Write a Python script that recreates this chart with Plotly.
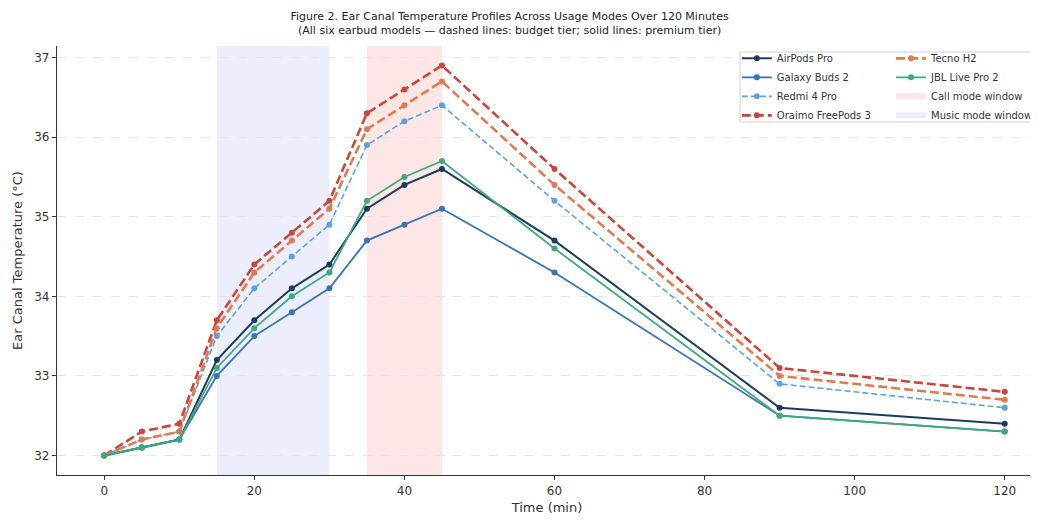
import plotly.graph_objects as go

time_min = [0, 5, 10, 15, 20, 25, 30, 35, 40, 45, 60, 90, 120]

airpods_pro = [32.0, 32.1, 32.2, 33.2, 33.7, 34.1, 34.4, 35.1, 35.4, 35.6, 34.7, 32.6, 32.4]
galaxy_buds_2 = [32.0, 32.1, 32.2, 33.0, 33.5, 33.8, 34.1, 34.7, 34.9, 35.1, 34.3, 32.5, 32.3]
redmi_4_pro = [32.0, 32.2, 32.3, 33.5, 34.1, 34.5, 34.9, 35.9, 36.2, 36.4, 35.2, 32.9, 32.6]
oraimo_freepods_3 = [32.0, 32.3, 32.4, 33.7, 34.4, 34.8, 35.2, 36.3, 36.6, 36.9, 35.6, 33.1, 32.8]
tecno_h2 = [32.0, 32.2, 32.3, 33.6, 34.3, 34.7, 35.1, 36.1, 36.4, 36.7, 35.4, 33.0, 32.7]
jbl_live_pro_2 = [32.0, 32.1, 32.2, 33.1, 33.6, 34.0, 34.3, 35.2, 35.5, 35.7, 34.6, 32.5, 32.3]

call_window = [35, 45]
music_window = [15, 30]

x_ticks = [0, 20, 40, 60, 80, 100, 120]
y_ticks = [32, 33, 34, 35, 36, 37]

FONT = "DejaVu Sans"
AX = "#333333"
CALL_COLOR = "#fde6e6"
MUSIC_COLOR = "#eceefd"

series = [
    ("AirPods Pro", airpods_pro, "#1f3a5f", "solid", 2.0, "legend", 1),
    ("Galaxy Buds 2", galaxy_buds_2, "#3873b8", "solid", 1.8, "legend", 2),
    ("Redmi 4 Pro", redmi_4_pro, "#5ba3dc", "6px,3px", 1.6, "legend", 3),
    ("Oraimo FreePods 3", oraimo_freepods_3, "#c8473a", "9px,4px", 2.6, "legend", 4),
    ("Tecno H2", tecno_h2, "#e07a50", "9px,4px", 2.6, "legend2", 5),
    ("JBL Live Pro 2", jbl_live_pro_2, "#3daa7d", "solid", 1.8, "legend2", 6),
]

fig = go.Figure()

fig.add_vrect(x0=call_window[0], x1=call_window[1], fillcolor=CALL_COLOR, opacity=1,
              line_width=0, layer="below")
fig.add_vrect(x0=music_window[0], x1=music_window[1], fillcolor=MUSIC_COLOR, opacity=1,
              line_width=0, layer="below")

for name, vals, color, dash, width, leg, rank in series:
    fig.add_trace(go.Scatter(
        x=time_min, y=vals, name=name, mode="lines+markers",
        line=dict(color=color, dash=dash, width=width),
        marker=dict(color=color, size=6),
        legend=leg, legendrank=rank,
    ))

# legend-only entries for the shaded windows
for name, color, rank in [("Call mode window", CALL_COLOR, 7), ("Music mode window", MUSIC_COLOR, 8)]:
    fig.add_trace(go.Scatter(
        x=[None], y=[None], name=name, mode="none", fill="toself", fillcolor=color,
        legend="legend2", legendrank=rank, hoverinfo="skip",
    ))

# legend box
fig.add_shape(type="rect", xref="paper", yref="paper", x0=0.697, x1=1.01, y0=0.823, y1=0.986,
              line=dict(color="#d0d0d0", width=1), fillcolor="rgba(255,255,255,0.9)", layer="above")

fig.update_layout(
    width=1030, height=512,
    margin=dict(l=49, r=0, t=38, b=45),
    paper_bgcolor="white", plot_bgcolor="white",
    font=dict(family=FONT, color=AX, size=12),
    title=dict(
        text="Figure 2. Ear Canal Temperature Profiles Across Usage Modes Over 120 Minutes<br>(All six earbud models — dashed lines: budget tier; solid lines: premium tier)",
        x=0.487, xanchor="center", y=0.977, yanchor="top",
        font=dict(family=FONT, size=11, color="#222222"),
    ),
    xaxis=dict(
        range=[-6.3, 124.3], tickvals=x_ticks, showgrid=False, zeroline=False,
        showline=True, linecolor=AX, linewidth=1.2, ticks="outside", ticklen=4, tickcolor=AX,
        title=dict(text="Time (min)", font=dict(size=13), standoff=6),
        tickfont=dict(size=12),
    ),
    yaxis=dict(
        range=[31.755, 37.145], tickvals=y_ticks, showgrid=True, gridcolor="#e6e6e6",
        griddash="dash", gridwidth=1, zeroline=False,
        showline=True, linecolor=AX, linewidth=1.2, ticks="outside", ticklen=4, tickcolor=AX,
        title=dict(text="Ear Canal Temperature (°C)", font=dict(size=13), standoff=8),
        tickfont=dict(size=12),
    ),
    legend=dict(x=0.693, y=1.005, xanchor="left", yanchor="top", bgcolor="rgba(0,0,0,0)",
                font=dict(size=10, family=FONT), tracegroupgap=0, itemwidth=30),
    legend2=dict(x=0.851, y=1.005, xanchor="left", yanchor="top", bgcolor="rgba(0,0,0,0)",
                 font=dict(size=10, family=FONT), tracegroupgap=0, itemwidth=30),
)

fig.write_html("out.html")
